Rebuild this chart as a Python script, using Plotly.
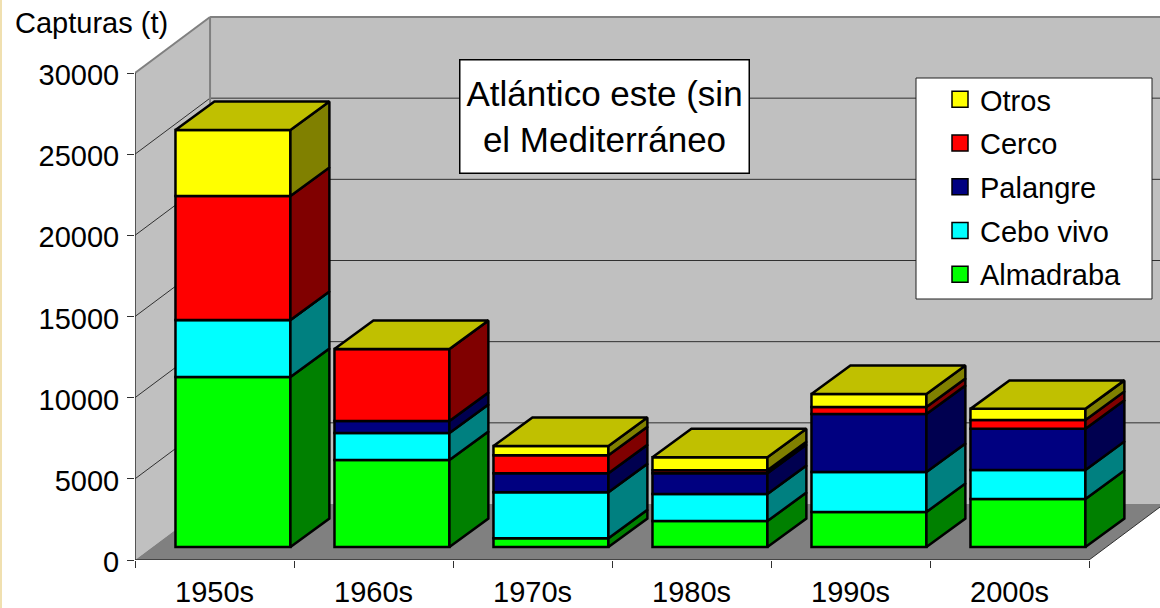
import plotly.graph_objects as go

decades = ["1950s", "1960s", "1970s", "1980s", "1990s", "2000s"]
almadraba = [10470, 5360, 540, 1600, 2160, 2960]
cebo_vivo = [3520, 1660, 2830, 1660, 2460, 1790]
palangre = [0, 740, 1170, 1290, 3570, 2530]
cerco = [7640, 4440, 1110, 185, 430, 550]
otros = [4060, 0, 570, 800, 800, 680]
y_ticks = [0, 5000, 10000, 15000, 20000, 25000, 30000]

series = [
    ("Almadraba", almadraba, "#00FF00", "#008000"),
    ("Cebo vivo", cebo_vivo, "#00FFFF", "#008080"),
    ("Palangre", palangre, "#000080", "#000050"),
    ("Cerco", cerco, "#FF0000", "#800000"),
    ("Otros", otros, "#FFFF00", "#808000"),
]
top_color = "#C0C000"

# page size and where the axes sit in it
W, H = 1160, 608
M_L, M_T, M_B = 135, 10, 48
X_MAX = (W - M_L) / 159
Y_MAX = (H - M_T - M_B) / 16.233 * 1000

# fake 3d: how far the walls and the bars are pushed back, in axis units
WALL_DX, WALL_DY = 0.472, 3450
BAR_SHIFT_X, BAR_SHIFT_Y = 0.116, 800
BAR_W = 0.723
BAR_DX, BAR_DY = 0.245, 1755
EDGE = 2.5


def px_x(v):
    return (v - M_L) / (W - M_L)


def px_y(v):
    return 1 - (v - M_T) / (H - M_T - M_B)


def poly(points):
    return "M" + " L".join(f"{x},{y}" for x, y in points) + " Z"


shapes = []
wall_top = y_ticks[-1] + WALL_DY
# left wall, back wall, floor
shapes.append(dict(type="path", path=poly([(0, 0), (WALL_DX, WALL_DY), (WALL_DX, wall_top), (0, y_ticks[-1])]),
                   fillcolor="#C0C0C0", line_width=0, layer="below"))
shapes.append(dict(type="path", path=poly([(WALL_DX, WALL_DY), (X_MAX + 1, WALL_DY), (X_MAX + 1, wall_top), (WALL_DX, wall_top)]),
                   fillcolor="#C0C0C0", line_width=0, layer="below"))
shapes.append(dict(type="path", path=poly([(0, 0), (6, 0), (6 + WALL_DX, WALL_DY), (WALL_DX, WALL_DY)]),
                   fillcolor="#808080", line_width=0, layer="below"))


def add_line(x0, y0, x1, y1, color, width):
    shapes.append(dict(type="line", x0=x0, y0=y0, x1=x1, y1=y1, layer="below",
                       line=dict(color=color, width=width)))


for t in y_ticks[1:-1]:
    add_line(0, t, WALL_DX, t + WALL_DY, "#303030", 1)
    add_line(WALL_DX, t + WALL_DY, X_MAX + 1, t + WALL_DY, "#303030", 1)
add_line(0, y_ticks[-1], WALL_DX, wall_top, "#808080", 2)
add_line(WALL_DX, WALL_DY, WALL_DX, wall_top, "#808080", 2)
add_line(WALL_DX, wall_top, X_MAX + 1, wall_top, "#808080", 2)
add_line(0, 0, 0, y_ticks[-1], "#303030", 1.5)
add_line(0, 0, 6, 0, "#303030", 1.5)
add_line(6, 0, 6 + WALL_DX, WALL_DY, "#303030", 1)

# left page strip and the box behind the legend
shapes.append(dict(type="rect", xref="paper", yref="paper", x0=px_x(0), x1=px_x(2), y0=px_y(H), y1=px_y(0),
                   fillcolor="#F0E0B0", line_width=0))
shapes.append(dict(type="rect", xref="paper", yref="paper", x0=px_x(916), x1=px_x(1152), y0=px_y(299), y1=px_y(78),
                   fillcolor="white", line=dict(color="#202020", width=1)))

fig = go.Figure()

x_front = [i + 0.5 + BAR_SHIFT_X for i in range(len(decades))]
bottom = [BAR_SHIFT_Y] * len(decades)
for name, values, color, side_color in series:
    fig.add_trace(go.Bar(x=x_front, y=values, base=bottom, width=BAR_W, showlegend=False, name=name,
                         marker=dict(color=color, line=dict(color="black", width=EDGE))))
    # side faces of this series, all bars in one trace
    sx, sy = [], []
    for i, v in enumerate(values):
        x1 = x_front[i] + BAR_W / 2
        x2 = x1 + BAR_DX
        b = bottom[i]
        sx += [x1, x2, x2, x1, x1, None]
        sy += [b, b + BAR_DY, b + v + BAR_DY, b + v, b, None]
    fig.add_trace(go.Scatter(x=sx, y=sy, mode="lines", fill="toself", fillcolor=side_color,
                             line=dict(color="black", width=EDGE), showlegend=False, hoverinfo="skip"))
    bottom = [b + v for b, v in zip(bottom, values)]

# top faces
tx, ty = [], []
for i, b in enumerate(bottom):
    x0 = x_front[i] - BAR_W / 2
    x1 = x_front[i] + BAR_W / 2
    tx += [x0, x1, x1 + BAR_DX, x0 + BAR_DX, x0, None]
    ty += [b, b, b + BAR_DY, b + BAR_DY, b, None]
fig.add_trace(go.Scatter(x=tx, y=ty, mode="lines", fill="toself", fillcolor=top_color,
                         line=dict(color="black", width=EDGE), showlegend=False, hoverinfo="skip"))

# legend keys, top to bottom
for name, values, color, side_color in reversed(series):
    fig.add_trace(go.Scatter(x=[None], y=[None], mode="markers", name=name, legendgroup=name,
                             marker=dict(symbol="square", size=16, color=color, line=dict(color="black", width=1.5))))

fig.update_layout(
    width=W, height=H,
    margin=dict(l=M_L, r=0, t=M_T, b=M_B, autoexpand=False),
    barmode="overlay",
    paper_bgcolor="white",
    plot_bgcolor="white",
    font=dict(family="Liberation Sans, Arial, sans-serif", size=29, color="black"),
    shapes=shapes,
    legend=dict(x=px_x(940), y=px_y(74), xanchor="left", yanchor="top", bgcolor="rgba(0,0,0,0)",
                traceorder="grouped", tracegroupgap=3, font=dict(size=29)),
    xaxis=dict(range=[0, X_MAX], tickvals=[i + 0.5 for i in range(len(decades))], ticktext=decades,
               ticks="", showgrid=False, zeroline=False, showline=False, ticklabelstandoff=12,
               minor=dict(tickvals=list(range(len(decades) + 1)), ticks="outside", ticklen=7, tickwidth=1,
                          tickcolor="#303030", showgrid=False)),
    yaxis=dict(range=[0, Y_MAX], tickvals=y_ticks, tickformat="d", ticks="outside", ticklen=7, tickwidth=1,
               tickcolor="#303030", showgrid=False, zeroline=False, showline=False, ticklabelstandoff=2,
               ticklabelshift=2),
    annotations=[
        dict(text="Capturas (t)", xref="paper", yref="paper", x=px_x(13), y=px_y(23), xanchor="left", yanchor="middle",
             showarrow=False, font=dict(size=29)),
        dict(text="Atlántico este (sin<br>el Mediterráneo", xref="paper", yref="paper", x=px_x(604), y=px_y(116),
             xanchor="center", yanchor="middle", showarrow=False, width=286, height=110, align="center",
             bgcolor="white", bordercolor="black", borderwidth=1.5, font=dict(size=35)),
    ],
)

fig.write_html("out.html", config={"displayModeBar": False},
               post_script="document.body.style.margin='0';document.body.style.overflow='hidden';")
